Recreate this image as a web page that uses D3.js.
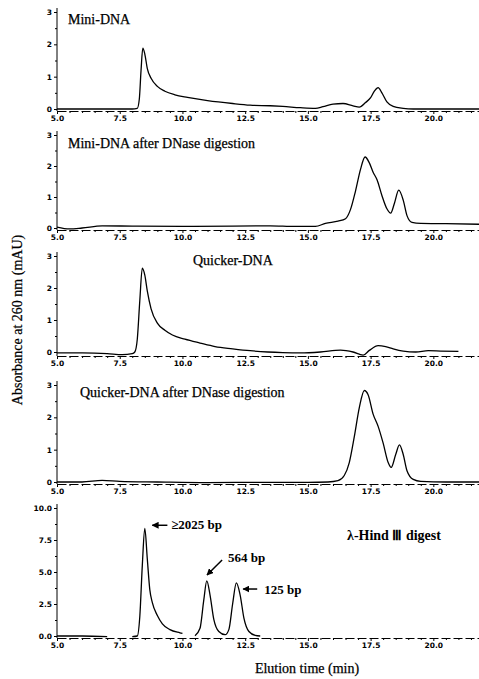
<!DOCTYPE html>
<html>
<head>
<meta charset="utf-8">
<script src="https://cdn.jsdelivr.net/npm/d3@7"></script>
<style>
body { margin: 0; background: #fff; }
.tick text { font-family: "DejaVu Sans", sans-serif; font-weight: bold; font-size: 7.5px; }
</style>
</head>
<body>
<div class="chart"></div>
<script>
// elution time ticks and absorbance ticks
const timeTicks = [5, 7.5, 10, 12.5, 15, 17.5, 20];
const absTicks = [0, 1, 2, 3];
const ladderTicks = [0, 2.5, 5, 7.5, 10];

const panelTitles = ['Mini-DNA', 'Mini-DNA after DNase digestion', 'Quicker-DNA',
    'Quicker-DNA after DNase digestion', 'λ-Hind Ⅲ digest'];

// [time (min), absorbance (mAU)]
const miniDNA = [[5.0,0.0],[6.0,0.0],[7.0,0.0],[8.0,0.0],[8.2,0.02],[8.28,0.3],[8.35,1.2],[8.42,1.88],
    [8.5,1.7],[8.6,1.25],[8.75,0.95],[9.0,0.7],[9.3,0.55],[9.7,0.44],[10.2,0.36],[11.0,0.26],
    [12.0,0.17],[12.7,0.12],[13.5,0.1],[14.0,0.08],[14.7,0.04],[15.3,0.02],[15.6,0.07],[16.0,0.15],
    [16.4,0.17],[16.8,0.1],[17.05,0.06],[17.3,0.2],[17.5,0.35],[17.65,0.55],[17.8,0.66],[17.95,0.5],
    [18.15,0.22],[18.4,0.08],[18.8,0.02],[19.2,0.0],[20.0,0.0],[21.9,0.0]];

const miniDNase = [[5.0,0.03],[5.5,-0.03],[6.0,0.0],[6.8,0.07],[8.0,0.06],[10.0,0.05],[12.0,0.06],
    [13.5,0.07],[14.5,0.05],[15.3,0.05],[15.7,0.15],[16.2,0.22],[16.5,0.3],[16.7,0.6],[16.9,1.2],
    [17.1,1.9],[17.28,2.29],[17.45,2.1],[17.6,1.8],[17.76,1.55],[17.95,1.05],[18.15,0.62],[18.3,0.48],
    [18.45,0.8],[18.62,1.22],[18.8,0.9],[18.95,0.4],[19.15,0.18],[19.5,0.15],[20.5,0.14],[21.9,0.12]];

const quickerDNA = [[5.0,-0.03],[6.0,-0.03],[7.0,-0.05],[7.6,-0.08],[8.0,-0.05],[8.1,0.0],[8.2,0.4],
    [8.3,1.6],[8.4,2.62],[8.5,2.4],[8.6,1.9],[8.75,1.35],[9.0,0.9],[9.3,0.68],[9.6,0.53],[10.1,0.4],
    [10.7,0.28],[11.3,0.17],[12.0,0.1],[12.7,0.04],[13.4,0.0],[14.0,-0.02],[14.7,-0.03],[15.5,0.0],
    [16.3,0.06],[16.8,0.0],[17.2,-0.1],[17.45,0.05],[17.8,0.2],[18.1,0.17],[18.4,0.1],[18.8,0.03],
    [19.3,0.0],[19.8,0.04],[20.3,0.03],[21.0,0.02]];

const quickerDNase = [[5.0,0.0],[6.0,0.0],[6.8,0.05],[7.5,0.02],[9.0,0.0],[11.0,-0.02],[13.0,-0.01],
    [15.0,-0.01],[15.8,0.0],[16.2,0.04],[16.45,0.2],[16.65,0.6],[16.85,1.4],[17.05,2.3],[17.25,2.83],
    [17.4,2.7],[17.6,2.1],[17.8,1.72],[18.0,1.2],[18.2,0.6],[18.32,0.45],[18.5,0.85],[18.65,1.15],
    [18.8,0.85],[18.95,0.35],[19.2,0.08],[19.5,0.02],[20.5,0.0],[21.9,0.0]];

// null = gap in the printed trace
const lambdaHind = [[5.0,0.0],[6.0,0.0],[7.0,-0.05],[7.05,null],[8.0,-0.05],[8.2,0.0],[8.3,1.5],
    [8.4,5.5],[8.5,8.4],[8.6,6.0],[8.7,3.6],[8.8,2.6],[9.0,1.6],[9.2,0.95],[9.5,0.5],[9.9,0.25],
    [10.0,0.2],[10.05,null],[10.5,0.02],[10.7,0.6],[10.85,2.8],[10.97,4.3],[11.1,3.2],[11.25,1.3],
    [11.45,0.35],[11.7,0.1],[11.85,0.5],[12.0,2.5],[12.15,4.15],[12.3,3.2],[12.45,1.4],[12.65,0.35],
    [12.9,0.05],[13.1,0.0]];

const ladderLabels = ['≥2025 bp', '564 bp', '125 bp'];
const ladderTips = [[8.8, 8.65], [10.98, 4.77], [12.42, 3.67]];
const ladderTails = [[9.4, 8.65], [11.58, 5.94], [12.98, 3.67]];
const ladderTextAt = [[9.55, 8.35], [11.82, 5.8], [13.26, 3.28]];

const width = 479, height = 679;

const svg = d3.select('.chart')
    .append('svg')
    .attr('width', width)
    .attr('height', height);

svg.append('defs').append('marker')
    .attr('id', 'arrow')
    .attr('viewBox', '0 0 10 10')
    .attr('refX', 9).attr('refY', 5)
    .attr('markerWidth', 7).attr('markerHeight', 7)
    .attr('markerUnits', 'userSpaceOnUse')
    .attr('orient', 'auto')
    .append('path')
    .attr('d', 'M0,0L10,5L0,10z')
    .attr('fill', 'black');

const xScale = d3.scaleLinear()
    .domain([5, 21.9])
    .range([57, 481]);

const panels = [
    {data: miniDNA, ticks: absTicks, max: 3, top: 12, zero: 109, axisY: 111, title: [68, 24]},
    {data: miniDNase, ticks: absTicks, max: 3, top: 135, zero: 228, axisY: 230, title: [68, 148]},
    {data: quickerDNA, ticks: absTicks, max: 3, top: 256, zero: 352, axisY: 356, title: [193, 265]},
    {data: quickerDNase, ticks: absTicks, max: 3, top: 385, zero: 482, axisY: 484, title: [80, 397]},
    {data: lambdaHind, ticks: ladderTicks, max: 10, top: 508, zero: 636, axisY: 638, title: [347, 540]}
];

panels.forEach((p, i) => {
    const yScale = d3.scaleLinear()
        .domain([0, p.max])
        .range([p.zero, p.top]);
    p.y = yScale;
    const g = svg.append('g').attr('class', 'panel');

    // x axis, dashed like the printout
    const xAxis = d3.axisBottom(xScale)
        .tickValues(timeTicks)
        .tickFormat(d3.format('.1f'))
        .tickSize(3)
        .tickSizeOuter(0)
        .tickPadding(2);
    const xg = g.append('g')
        .attr('class', 'axis x-axis')
        .attr('transform', `translate(0, ${p.axisY})`)
        .call(xAxis);
    xg.select('.domain').attr('stroke-dasharray', '9,3');

    g.append('g')
        .attr('class', 'axis x-minor')
        .attr('transform', `translate(0, ${p.axisY})`)
        .call(d3.axisBottom(xScale).tickValues(d3.range(5.5, 21.9, 0.5).filter(v => v % 2.5 !== 0)).tickSize(2).tickFormat(''))
        .select('.domain').remove();

    // y axis
    const yAxis = d3.axisLeft(yScale)
        .tickValues(p.ticks)
        .tickFormat(p.max > 5 ? d3.format('.1f') : d3.format('d'))
        .tickSize(3)
        .tickSizeOuter(0)
        .tickPadding(2);
    const yg = g.append('g')
        .attr('class', 'axis y-axis')
        .attr('transform', 'translate(57,0)')
        .call(yAxis);
    yg.select('.domain').remove();
    yg.append('line')
        .attr('x1', 0).attr('x2', 0)
        .attr('y1', p.axisY).attr('y2', p.top - 4)
        .attr('stroke', 'black');

    const minorStep = p.max > 5 ? 1.25 : 0.5;
    g.append('g')
        .attr('transform', 'translate(57,0)')
        .call(d3.axisLeft(yScale).tickValues(d3.range(minorStep, p.max, minorStep * 2)).tickSize(2).tickFormat(''))
        .select('.domain').remove();

    // trace
    const line = d3.line()
        .defined(d => d[1] !== null)
        .x(d => xScale(d[0]))
        .y(d => yScale(d[1]))
        .curve(d3.curveMonotoneX);

    g.append('path')
        .datum(p.data)
        .attr('fill', 'none')
        .attr('stroke', 'black')
        .attr('stroke-width', 1.3)
        .attr('d', line);

    g.append('text')
        .attr('x', p.title[0])
        .attr('y', p.title[1])
        .attr('font-family', '"Liberation Serif", serif')
        .attr('font-size', 14)
        .attr('font-weight', i === 4 ? 'bold' : 'normal')
        .attr('stroke', 'black')
        .attr('stroke-width', i === 4 ? 0 : 0.25)
        .text(panelTitles[i]);
});

// peak annotations on the ladder panel
const ly = panels[4].y;
const ann = svg.append('g').attr('class', 'annotations');
ann.selectAll('line')
    .data(ladderLabels)
    .enter()
    .append('line')
    .attr('x1', (d, i) => xScale(ladderTails[i][0]))
    .attr('y1', (d, i) => ly(ladderTails[i][1]))
    .attr('x2', (d, i) => xScale(ladderTips[i][0]))
    .attr('y2', (d, i) => ly(ladderTips[i][1]))
    .attr('stroke', 'black')
    .attr('stroke-width', 1.5)
    .attr('marker-end', 'url(#arrow)');

ann.selectAll('text')
    .data(ladderLabels)
    .enter()
    .append('text')
    .attr('x', (d, i) => xScale(ladderTextAt[i][0]))
    .attr('y', (d, i) => ly(ladderTextAt[i][1]))
    .attr('font-family', '"Liberation Serif", serif')
    .attr('font-weight', 'bold')
    .attr('font-size', 13)
    .text(d => d);

svg.selectAll('.tick line').attr('stroke', 'black');
svg.selectAll('.tick text').attr('fill', 'black');

svg.append('text')
    .attr('x', 307)
    .attr('y', 673)
    .attr('text-anchor', 'middle')
    .attr('font-family', '"Liberation Serif", serif')
    .attr('font-size', 14)
    .attr('stroke', 'black')
    .attr('stroke-width', 0.25)
    .text('Elution time (min)');

svg.append('text')
    .attr('transform', 'translate(22, 320) rotate(-90)')
    .attr('text-anchor', 'middle')
    .attr('font-family', '"Liberation Serif", serif')
    .attr('font-size', 14)
    .attr('stroke', 'black')
    .attr('stroke-width', 0.25)
    .text('Absorbance at 260 nm (mAU)');
</script>
</body>
</html>
